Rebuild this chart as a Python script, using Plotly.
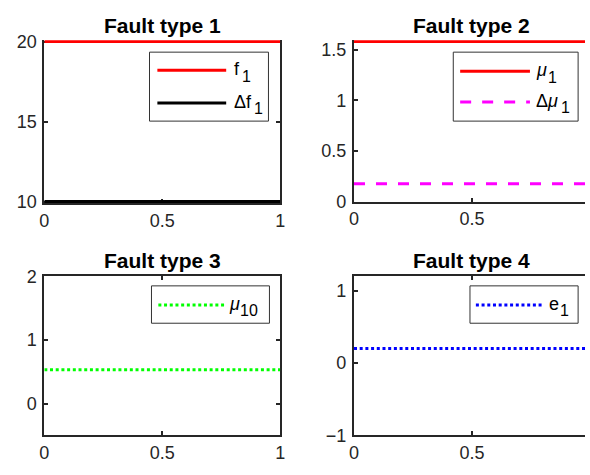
import plotly.graph_objects as go

# ---- data ----
t = [0, 1]
f1 = [20, 20]
df1 = [10, 10]
mu1 = [1.58, 1.58]
dmu1 = [0.175, 0.175]
mu10 = [0.53, 0.53]
e1 = [0.2, 0.2]

titles = ["Fault type 1", "Fault type 2", "Fault type 3", "Fault type 4"]
yranges = [[10, 20], [0, 1.58], [-0.5, 2], [-1, 1.2]]
yticks = [[10, 15, 20], [0, 0.5, 1, 1.5], [0, 1, 2], [-1, 0, 1]]
xticks = [0, 0.5, 1]

W, H = 590, 475
FONT = "Liberation Sans, Arial, Helvetica, sans-serif"
AX = "#262626"
TICK_SIZE = 18
TITLE_SIZE = 21
LEG_SIZE = 18


def px(x):
    return x / W


def py(y):
    return 1 - y / H


# axes pixel boxes (left, right, top, bottom)
boxes = [(40, 280, 33, 200), (355, 595, 33, 200), (40, 280, 278, 444), (355, 595, 278, 444)]
# small pixel padding so lines lying on the frame are not clipped (top, bottom)
pads = [(1.5, 1.5), (1.5, 0), (0, 0), (0, 0)]
# top frame line hidden under a data line in the first row
top_mirror = [False, False, True, True]

fig = go.Figure()

series = [
    (1, t, f1, "red", "solid"),
    (1, t, df1, "black", "solid"),
    (2, t, mu1, "red", "solid"),
    (2, t, dmu1, "magenta", "11px,11px"),
    (3, t, mu10, "#00ff00", "3px,2.7px"),
    (4, t, e1, "blue", "3px,2.7px"),
]
for k, x, y, c, d in series:
    sfx = "" if k == 1 else str(k)
    fig.add_trace(go.Scatter(x=x, y=y, mode="lines", line=dict(color=c, width=3, dash=d),
                             xaxis="x" + sfx, yaxis="y" + sfx, showlegend=False,
                             cliponaxis=False, hoverinfo="skip"))

layout = dict(width=W, height=H, margin=dict(l=0, r=0, t=0, b=0),
              paper_bgcolor="white", plot_bgcolor="white", showlegend=False,
              font=dict(family=FONT, size=TICK_SIZE, color=AX))

for i, (l, r, tp, b) in enumerate(boxes):
    k = i + 1
    sfx = "" if k == 1 else str(k)
    right = min(r, W)
    xmax = (right - l) / (r - l)
    full = r <= W
    pt, pb = pads[i]
    y0, y1 = yranges[i]
    per_px = (y1 - y0) / (b - tp)
    layout["xaxis" + sfx] = dict(
        domain=[px(l), px(right)], range=[0, xmax], anchor="y" + sfx,
        tickvals=xticks, ticks="inside", ticklen=4, tickwidth=1.5, tickcolor=AX,
        showline=True, linewidth=2, linecolor=AX, mirror="allticks" if top_mirror[i] else False,
        showgrid=False, zeroline=False, tickfont=dict(size=TICK_SIZE, color=AX, family=FONT),
        fixedrange=True, layer="below traces")
    layout["yaxis" + sfx] = dict(
        domain=[py(b + pb), py(tp - pt)], range=[y0 - pb * per_px, y1 + pt * per_px], anchor="x" + sfx,
        tickvals=yticks[i], ticks="inside", ticklen=4, tickwidth=1.5, tickcolor=AX,
        showline=True, linewidth=2, linecolor=AX, mirror="allticks" if full else False,
        showgrid=False, zeroline=False, tickfont=dict(size=TICK_SIZE, color=AX, family=FONT),
        ticklabelstandoff=2, fixedrange=True, layer="below traces")

fig.update_layout(**layout)

# titles
title_pos = [(160, 16), (475, 16), (160, 261), (475, 261)]
for (x, y), txt in zip(title_pos, titles):
    fig.add_annotation(x=px(x), y=py(y), xref="paper", yref="paper", text="<b>%s</b>" % txt,
                       showarrow=False, font=dict(size=TITLE_SIZE, color="black", family=FONT),
                       xanchor="center", yanchor="middle")

# legends: box, samples, (main label, x), (subscript, x)
legends = [
    ((147, 268, 44, 116), [(155, 225, 63, "red", "solid", "f", 231, "1", 239),
                           (155, 225, 97, "black", "solid", "Δf", 231, "1", 251)]),
    ((456, 583, 44, 116), [(463, 534, 64, "red", "solid", "<i>μ</i>", 538, "1", 550),
                           (463, 534, 96, "magenta", "11px,11px", "Δ<i>μ</i>", 538, "1", 564)]),
    ((149, 269, 288, 327), [(156, 223, 308, "#00ff00", "3px,2.7px", "<i>μ</i>", 226, "10", 237)]),
    ((473, 583, 288, 327), [(479, 547, 308, "blue", "3px,2.7px", "e", 551, "1", 563)]),
]
for (l, r, tp, b), items in legends:
    fig.add_shape(type="rect", xref="paper", yref="paper", x0=px(l), x1=px(r), y0=py(b), y1=py(tp),
                  line=dict(color="#333333", width=1), fillcolor="white", layer="above")
    for x0, x1, y, c, d, txt, tx, sb, sx in items:
        fig.add_shape(type="line", xref="paper", yref="paper", x0=px(x0), x1=px(x1), y0=py(y), y1=py(y),
                      line=dict(color=c, width=3, dash=d), layer="above")
        fig.add_annotation(x=px(tx), y=py(y - 1), xref="paper", yref="paper", text=txt, showarrow=False,
                           font=dict(size=LEG_SIZE, color="black", family=FONT), xanchor="left",
                           yanchor="middle")
        fig.add_annotation(x=px(sx), y=py(y + 6), xref="paper", yref="paper", text=sb, showarrow=False,
                           font=dict(size=16, color="black", family=FONT), xanchor="left",
                           yanchor="middle")

fig.write_html("out.html")
